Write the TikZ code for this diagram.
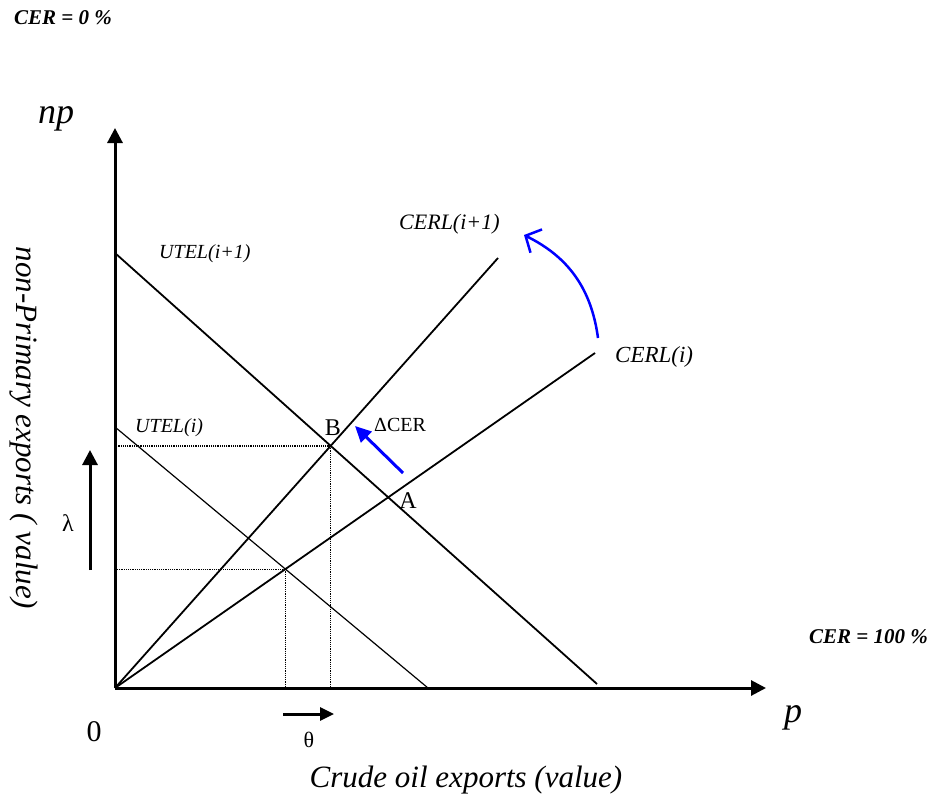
\documentclass[tikz,border=0pt]{standalone}
\usepackage{fontspec}
\setmainfont{Liberation Serif}
\usetikzlibrary{arrows.meta}
\newcommand{\fsz}[1]{\fontsize{#1}{#1}\selectfont}
\begin{document}
\begin{tikzpicture}[x=1pt,y=1pt,
  axisline/.style={line width=3pt,-{Triangle[length=15pt,width=15pt]}},
  mainline/.style={line width=1.8pt},
  thinline/.style={line width=1.2pt},
  guide/.style={line width=1.2pt,densely dotted},
  shiftarrow/.style={line width=3pt,-{Triangle[length=15pt,width=15pt]}},
  bluearrow/.style={blue,line width=3pt,-{Triangle[length=16pt,width=15pt]}},
  bendarrow/.style={blue,line width=2.5pt,-{Straight Barb[length=12pt,width=26pt]}},
  lbl/.style={inner sep=0pt}]
\useasboundingbox (0,0) rectangle (932,-798);

% coordinates
\coordinate (O) at (115,-688);
\coordinate (Ytop) at (115,-128);
\coordinate (Xend) at (766,-688);
\coordinate (U1s) at (115,-253);
\coordinate (U1e) at (597,-684);
\coordinate (U0s) at (115,-427);
\coordinate (U0e) at (428,-688);
\coordinate (C0e) at (595,-353);
\coordinate (C1e) at (498,-258);
\coordinate (B) at (intersection of O--C1e and U1s--U1e);
\coordinate (A) at (intersection of O--C0e and U1s--U1e);
\coordinate (P0) at (intersection of O--C0e and U0s--U0e);

% dotted guides
\draw[guide] (B) -- (B -| O);
\draw[guide] (B) -- (B |- O);
\draw[guide] (P0) -- (P0 -| O);
\draw[guide] (P0) -- (P0 |- O);

% lines
\draw[mainline] (U1s) -- (U1e);
\draw[thinline] (U0s) -- (U0e);
\draw[mainline] (O) -- (C0e);
\draw[mainline] (O) -- (C1e);

% axes
\draw[axisline] (O) -- (Ytop);
\draw[axisline] (O) -- (Xend);

% shift arrows
\coordinate (Ls) at (90,-570);
\coordinate (Le) at (90,-450);
\draw[shiftarrow] (Ls) -- (Le);
\coordinate (Ts) at (283,-714);
\coordinate (Te) at (334,-714);
\draw[line width=3pt,-{Triangle[length=14pt,width=13pt]}] (Ts) -- (Te);

% blue arrows
\coordinate (Ds) at (403,-473);
\coordinate (De) at (355,-426);
\draw[bluearrow] (Ds) -- (De);
\coordinate (Rs) at (598,-338);
\coordinate (Re) at (524,-235);
\draw[bendarrow] (Rs) to[bend right=28] (Re);

% labels
\node[lbl,anchor=base west,font=\fsz{21}\bfseries\itshape] (cer0) at (14,-24) {CER = 0 \%};
\node[lbl,anchor=base west,font=\fsz{21}\bfseries\itshape] (cer100) at (809,-643) {CER = 100 \%};
\node[lbl,anchor=base,font=\fsz{36}\itshape] (np) at (56,-123) {np};
\node[lbl,anchor=base,font=\fsz{36}\itshape] (p) at (793,-722) {p};
\node[lbl,anchor=base west,font=\fsz{20}\itshape] (ut1) at (159,-258) {UTEL(i+1)};
\node[lbl,anchor=base west,font=\fsz{20}\itshape] (ut0) at (135,-432) {UTEL(i)};
\node[lbl,anchor=base west,font=\fsz{22}\itshape] (cl1) at (399,-229) {CERL(i+1)};
\node[lbl,anchor=base west,font=\fsz{23}\itshape] (cl0) at (615,-362) {CERL(i)};
\node[lbl,anchor=base,font=\fsz{24}] (Blbl) at (333,-435) {B};
\node[lbl,anchor=base,font=\fsz{24}] (Albl) at (408,-508) {A};
\node[lbl,anchor=base west,font=\fsz{20}] (dcer) at (374,-431) {ΔCER};
\node[lbl,font=\fsz{24}] (lam) at (68,-523) {λ};
\node[lbl,font=\fsz{22}] (th) at (309,-740) {θ};
\node[lbl,font=\fsz{30}] (zero) at (94,-732) {0};
\node[lbl,anchor=base,font=\fsz{31}\itshape] (xl) at (466,-787) {Crude oil exports (value)};
\node[lbl,rotate=-90,font=\fsz{31}\itshape] (yl) at (24,-428) {non-Primary exports ( value)};
\end{tikzpicture}
\end{document}
